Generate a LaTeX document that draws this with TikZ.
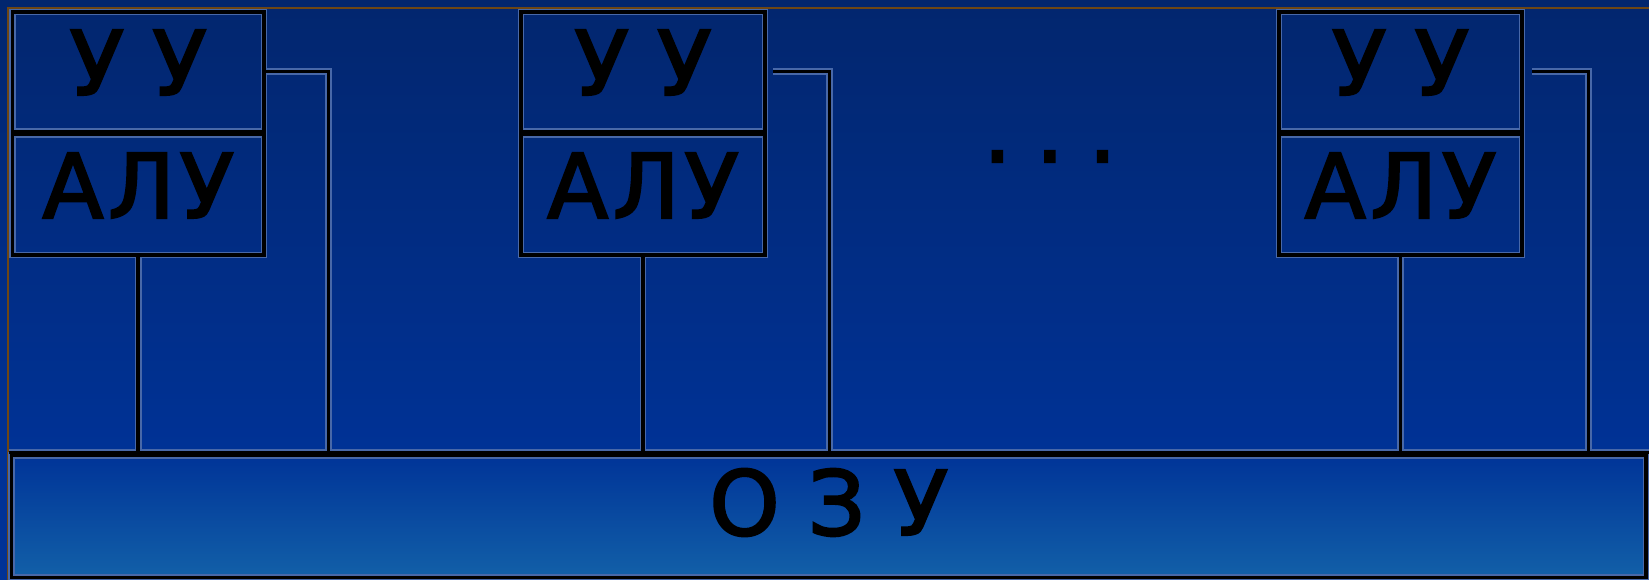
\documentclass[tikz,border=0pt]{standalone}
\usepackage{fontspec}
\setmainfont{DejaVu Sans}
\newfontfamily\lblfont[FakeBold=2.5]{DejaVu Sans}
\newfontfamily\alufont[FakeBold=2.5,LetterSpace=5]{DejaVu Sans}
\pgfdeclarelayer{background}
\pgfdeclarelayer{halo}
\pgfsetlayers{background,halo,main}
\definecolor{bgtop}{RGB}{2,38,110}
\definecolor{bgbot}{RGB}{0,50,150}
\definecolor{ozutop}{RGB}{0,52,152}
\definecolor{ozubot}{RGB}{18,96,168}
\definecolor{halocol}{RGB}{72,104,168}
\definecolor{framebrown}{RGB}{110,70,20}
\begin{document}
\begin{tikzpicture}[x=0.01cm,y=-0.01cm,
  unitbox/.style={draw=black, line width=1pt, inner sep=0pt, outer sep=0pt, rectangle,
    text=black, font=\lblfont\fontsize{25.4}{25.4}\selectfont, text height=0.65cm},
  alubox/.style={unitbox, font=\alufont\fontsize{25.4}{25.4}\selectfont},
  wire/.style={draw=black, line width=1pt},
  halo/.style={draw=halocol, line width=1.9pt},
  dotsstyle/.style={inner sep=0pt, outer sep=0pt, text=black, font=\lblfont\fontsize{25.4}{25.4}\selectfont, anchor=base}]
\useasboundingbox (0,0) rectangle (1649,580);
% blocks
\node[unitbox, minimum width=2.515cm, minimum height=1.1925cm, text depth=0.1825cm] (uu1) at (138.25,71.625) {У У};
\node[alubox, minimum width=2.515cm, minimum height=1.2025cm, text depth=0.1875cm] (alu1) at (138.25,194.875) {АЛУ};
\node[unitbox, minimum width=2.44cm, minimum height=1.1925cm, text depth=0.1825cm] (uu2) at (643,71.625) {У У};
\node[alubox, minimum width=2.44cm, minimum height=1.2025cm, text depth=0.1875cm] (alu2) at (643,194.875) {АЛУ};
\node[unitbox, minimum width=2.43cm, minimum height=1.1925cm, text depth=0.1825cm] (uu3) at (1400.5,71.625) {У У};
\node[alubox, minimum width=2.43cm, minimum height=1.2025cm, text depth=0.1875cm] (alu3) at (1400.5,194.875) {АЛУ};
\node[unitbox, minimum width=16.335cm, minimum height=1.22cm, text depth=0.28cm] (ozu) at (828.75,516.5) {О З У};
\node[dotsstyle] (dots) at (1050,162) {\makebox[0.525cm]{.}\makebox[0.525cm]{.}\makebox[0.525cm]{.}};
% coordinates
\coordinate (busL) at (9,452.5);
\coordinate (busR) at (1649,452.5);
\coordinate (b1) at (328.5,452.5);
\coordinate (s2) at (773,71.5);
\coordinate (b2) at (829.5,452.5);
\coordinate (s3) at (1532,71.5);
\coordinate (b3) at (1588.5,452.5);
% wires
\draw[wire] (busL) -- (busR);
\draw[wire] (alu1.south) -- (alu1.south |- busL);
\draw[wire] (alu2.south) -- (alu2.south |- busL);
\draw[wire] (alu3.south) -- (alu3.south |- busL);
\draw[wire] (uu1.east |- s2) -| (b1);
\draw[wire] (s2) -| (b2);
\draw[wire] (s3) -| (b3);
% background
\begin{pgfonlayer}{background}
  \shade[top color=bgtop, bottom color=bgbot] (0,0) rectangle (1649,456);
  \fill[bgbot] (0,456) rectangle (1649,580);
  \shade[top color=ozutop, bottom color=ozubot] (ozu.north west) rectangle (ozu.south east);
  \draw[framebrown, line width=0.35pt] (8,580) -- (8,8) -- (1649,8);
\end{pgfonlayer}
\begin{pgfonlayer}{halo}
  \foreach \n in {uu1,alu1,uu2,alu2,uu3,alu3,ozu}
    \draw[halo] (\n.north west) rectangle (\n.south east);
  \draw[halo] (busL) -- (busR);
  \draw[halo] (alu1.south) -- (alu1.south |- busL);
  \draw[halo] (alu2.south) -- (alu2.south |- busL);
  \draw[halo] (alu3.south) -- (alu3.south |- busL);
  \draw[halo] (uu1.east |- s2) -| (b1);
  \draw[halo] (s2) -| (b2);
  \draw[halo] (s3) -| (b3);
\end{pgfonlayer}
\end{tikzpicture}
\end{document}
